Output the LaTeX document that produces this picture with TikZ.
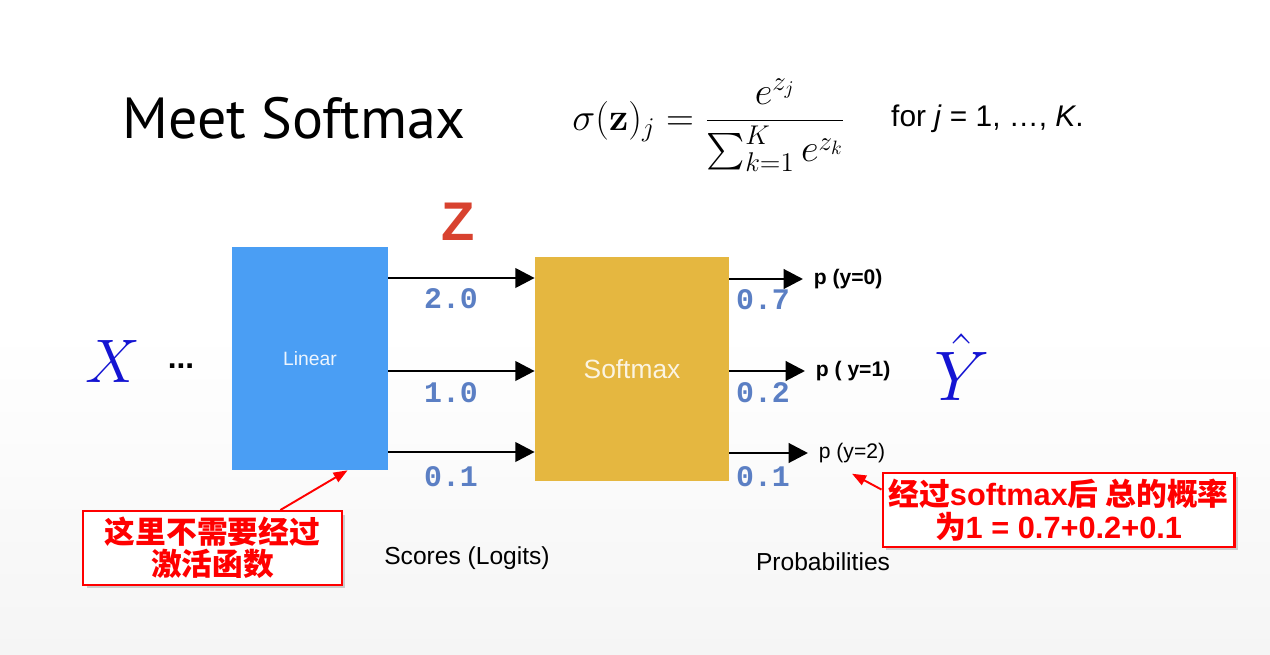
\RequirePackage{fix-cm}
\documentclass[tikz,border=0pt]{standalone}
\usepackage{exscale}
\usepackage[no-math]{fontspec}
\setmainfont{Liberation Sans}
\setmonofont{Liberation Mono}
\newfontfamily\titlefont{PT Sans}
\newfontfamily\cjk{Noto Sans CJK SC}
\usetikzlibrary{arrows.meta,calc,shadows}
\definecolor{linblue}{HTML}{4A9EF4}
\definecolor{smgold}{HTML}{E5B740}
\definecolor{numblue}{HTML}{5B7FC4}
\definecolor{zred}{HTML}{D8422F}
\definecolor{xblue}{HTML}{1414D2}
\definecolor{bglow}{HTML}{F5F5F5}
\begin{document}
\begin{tikzpicture}[x=0.02cm,y=-0.02cm,
  arr/.style={line width=1.7pt,-{Triangle[length=11pt,width=11pt]}},
  redarr/.style={red,line width=1.1pt,-{Triangle[length=8pt,width=6pt]}},
  score/.style={text=numblue,font=\fontsize{17}{17}\selectfont\ttfamily\bfseries},
  prob/.style={anchor=west,inner sep=6pt,font=\fontsize{12}{12}\selectfont\bfseries},
  note/.style={draw=red,line width=1.2pt,fill=white,text=red,align=center,
    font=\fontsize{17.5}{18.5}\selectfont\bfseries,
    drop shadow={shadow xshift=2pt,shadow yshift=-2pt,opacity=0.35}}]
\useasboundingbox (0,0) rectangle (1270,655);
\fill[white] (0,0) rectangle (1270,655);
\shade[top color=white,bottom color=bglow] (0,330) rectangle (1270,655);

% header
\node (title) at (294,118) {\titlefont\fontsize{33}{33}\selectfont Meet Softmax};
\node (eq) at (709,125) {\fontsize{22}{26}\selectfont
  $\displaystyle\sigma(\mathbf{z})_j = \frac{e^{z_j}}{\sum_{k=1}^{K} e^{z_k}}$};
\node[anchor=west] (for) at (885,119) {\fontsize{17}{17}\selectfont for \textit{j} = 1, \dots, \textit{K}.};

% inputs and outputs
\node[text=xblue,font=\fontsize{35}{35}\selectfont] (x) at (113,361) {$X$};
\node[anchor=base,font=\fontsize{18}{18}\selectfont\bfseries] (dots) at (181,368) {...};
\node[text=zred,font=\fontsize{31}{31}\selectfont\bfseries] (z) at (458,222) {Z};
\node[text=xblue,font=\fontsize{40}{40}\selectfont] (yhat) at (962,367) {$\hat{Y}$};

% boxes
\node[fill=linblue,text=white!90!linblue,minimum width=3.12cm,minimum height=4.46cm,
  font=\fontsize{11}{11}\selectfont] (lin) at (310,358.5) {Linear};
\node[fill=smgold,text=white!85!smgold,minimum width=3.88cm,minimum height=4.48cm,
  font=\fontsize{15}{15}\selectfont] (sm) at (632,369) {Softmax};

% scores
\coordinate (r0) at (0,278);
\coordinate (r1) at (0,371);
\coordinate (r2) at (0,452);
\draw[arr] (lin.east |- r0) -- (sm.west |- r0);
\draw[arr] (lin.east |- r1) -- (sm.west |- r1);
\draw[arr] (lin.east |- r2) -- (sm.west |- r2);
\node[score] (s0) at (451,299) {2.0};
\node[score] (s1) at (451,393) {1.0};
\node[score] (s2) at (451,477) {0.1};

% probabilities
\node[prob] (p0) at (803,279) {p (y=0)};
\node[prob] (p1) at (805,371) {p ( y=1)};
\node[prob,font=\fontsize{12}{12}\selectfont] (p2) at (808,453) {p (y=2)};
\draw[arr] (sm.east |- p0.west) -- (p0.west);
\draw[arr] (sm.east |- p1.west) -- (p1.west);
\draw[arr] (sm.east |- p2.west) -- (p2.west);
\node[score] (v0) at (763,300) {0.7};
\node[score] (v1) at (763,393) {0.2};
\node[score] (v2) at (763,477) {0.1};

\node[font=\fontsize{14}{14}\selectfont] (scores) at (467,558) {Scores (Logits)};
\node[font=\fontsize{14}{14}\selectfont] (probs) at (823,562) {Probabilities};

% notes
\node[note,minimum width=5.18cm,minimum height=1.36cm] (n1) at (212.5,548)
  {\cjk 这里不需要经过\\\cjk 激活函数};
\node[note,minimum width=6.94cm,minimum height=1.4cm] (n2) at (1058.5,510)
  {{\cjk 经过}softmax{\cjk 后 总的概率}\\{\cjk 为}1 = 0.7+0.2+0.1};
\draw[redarr] ($(n1.north west)!0.76!(n1.north east)$) -- ($(lin.south west)!0.74!(lin.south east)$);
\draw[redarr] ($(n2.north west)!0.23!(n2.south west)$) -- (p2.south);
\end{tikzpicture}
\end{document}
